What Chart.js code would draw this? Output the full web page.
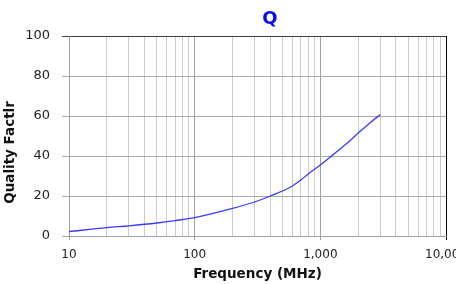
<!DOCTYPE html>
<html>
<head>
<meta charset="utf-8">
<script src="https://cdn.jsdelivr.net/npm/chart.js@4"></script>
<style>
  html, body { margin: 0; padding: 0; background: #fff; overflow: hidden; }
  #wrap { position: relative; width: 480px; height: 284px; }
</style>
</head>
<body>
<div id="wrap"><canvas id="c" width="480" height="284"></canvas></div>
<script>
const chartTitle = 'Q';
const xTitle = 'Frequency (MHz)';
const yTitle = 'Quality Factlr';
const freqs = [10, 20, 30, 50, 70, 100, 200, 300, 400, 600, 700, 800, 1000, 1200, 1500, 1800, 2000, 2500, 3000];
const qValues = [2.2, 4.2, 5.1, 6.5, 7.7, 9.2, 13.8, 17.0, 20.0, 25.0, 28.0, 31.0, 35.5, 39.5, 44.5, 48.8, 51.5, 56.7, 60.8];
const xTickValues = [10,20,30,40,50,60,70,80,90,100,200,300,400,500,600,700,800,900,1000,2000,3000,4000,5000,6000,7000,8000,9000,10000];
const xMajorTicks = [10, 100, 1000, 10000];
const yMin = 0, yMax = 100, yStep = 20;

const titlePlugin = {
  id: 'qTitle',
  afterDraw(chart) {
    const ctx = chart.ctx;
    const a = chart.chartArea;
    ctx.save();
    ctx.font = 'bold 18px "DejaVu Sans"';
    ctx.fillStyle = '#0a0af0';
    ctx.textAlign = 'center';
    ctx.textBaseline = 'middle';
    ctx.fillText(chartTitle, (a.left + a.right) / 2 + 12.5, 19);
    ctx.restore();
  }
};

new Chart(document.getElementById('c'), {
  type: 'line',
  data: {
    datasets: [{
      data: freqs.map((f, i) => ({ x: f, y: qValues[i] })),
      borderColor: '#3a3aff',
      borderWidth: 1.3,
      pointRadius: 0,
      fill: false,
      cubicInterpolationMode: 'monotone'
    }]
  },
  options: {
    responsive: false,
    animation: false,
    layout: { padding: { top: 36, right: 34, left: 0, bottom: 0 } },
    plugins: { legend: { display: false }, title: { display: false }, tooltip: { enabled: false } },
    scales: {
      x: {
        type: 'logarithmic',
        min: 10, max: 10000,
        afterBuildTicks(scale) { scale.ticks = xTickValues.map(v => ({ value: v })); },
        afterFit(scale) { scale.height = 48; },
        ticks: {
          autoSkip: false, maxRotation: 0, minRotation: 0, padding: 8,
          color: '#222',
          font: { family: 'DejaVu Sans', size: 12 },
          callback: (v) => xMajorTicks.includes(v) ? v.toLocaleString('en-US') : ''
        },
        grid: {
          tickLength: 4,
          lineWidth: 1,
          color: (c) => {
            const v = c.tick && c.tick.value;
            if (v === 10000) return '#000';
            if (xMajorTicks.includes(v)) return '#a0a0a0';
            return '#cccccc';
          },
          tickColor: (c) => {
            const v = c.tick && c.tick.value;
            if (v === 10000) return '#000';
            return xMajorTicks.includes(v) ? '#a0a0a0' : 'rgba(0,0,0,0)';
          }
        },
        border: { display: true, color: '#a0a0a0' },
        title: {
          display: true, text: xTitle, color: '#111',
          font: { family: 'DejaVu Sans', size: 13.5, weight: 'bold' },
          padding: { top: 0, bottom: 1 }
        }
      },
      y: {
        min: yMin, max: yMax,
        afterFit(scale) { scale.width = 69; },
        ticks: {
          stepSize: yStep, padding: 12, color: '#222',
          font: { family: 'DejaVu Sans', size: 13 }
        },
        grid: {
          tickLength: 7,
          color: (c) => (c.tick && c.tick.value === 100) ? '#404040' : '#a8a8a8',
          tickColor: (c) => (c.tick && c.tick.value === 100) ? '#404040' : '#a8a8a8'
        },
        border: { display: true, color: '#a0a0a0' },
        title: {
          display: true, text: yTitle + '       ', color: '#111',
          align: 'center',
          font: { family: 'DejaVu Sans', size: 13.5, weight: 'bold' },
          padding: { top: 2, bottom: 0 }
        }
      }
    }
  },
  plugins: [titlePlugin]
});
</script>
</body>
</html>
